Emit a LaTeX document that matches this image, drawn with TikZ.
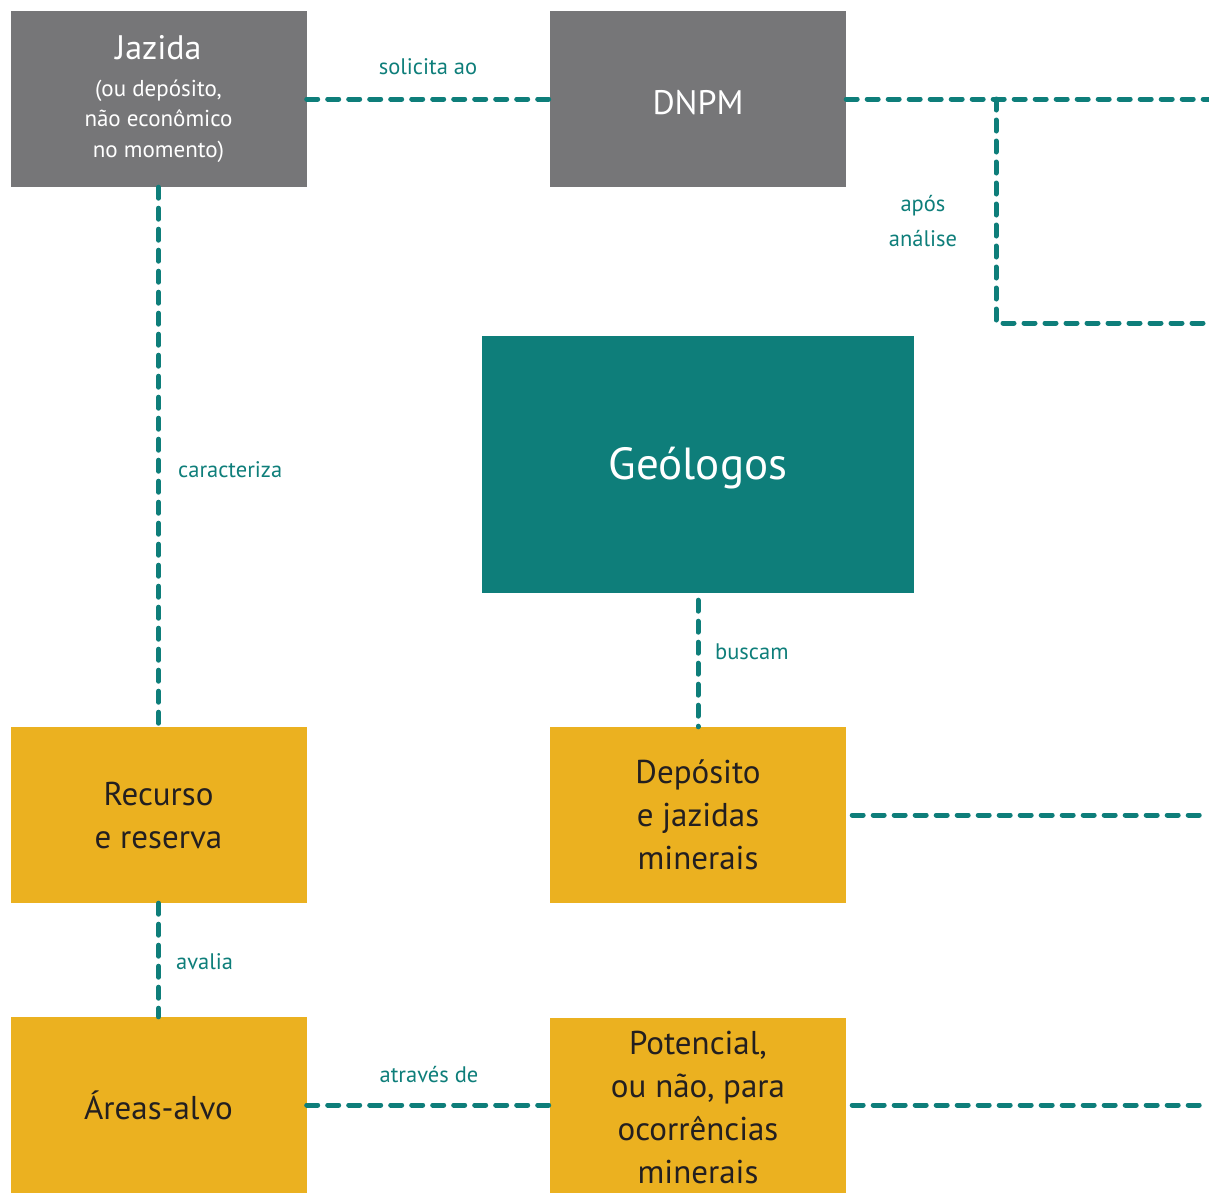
\documentclass[tikz,border=0pt]{standalone}
\usepackage{fontspec}
\setmainfont{PT Sans}
\usepackage{tikz}
\usetikzlibrary{positioning}

\definecolor{boxgray}{RGB}{118,118,120}
\definecolor{geoteal}{RGB}{14,126,122}
\definecolor{ochre}{RGB}{235,177,32}
\definecolor{inktext}{RGB}{35,31,32}

\begin{document}
\begin{tikzpicture}[
    x=1pt, y=-1pt,
    box/.style={minimum width=296pt, minimum height=176pt, inner sep=0pt, align=center},
    greybox/.style={box, fill=boxgray, text=white},
    ochrebox/.style={box, fill=ochre, text=inktext, font=\fontsize{33}{43}\selectfont},
    link/.style={draw=geoteal, line width=5pt, line cap=round, dash pattern=on 11pt off 10pt},
    lbl/.style={text=geoteal, inner sep=0pt, align=center, font=\fontsize{22.5}{35}\selectfont},
  ]
    \useasboundingbox (0,0) rectangle (1209,1192);

    \node[greybox, font=\fontsize{23}{30.5}\selectfont] (jaz) at (158.5,99)
      {{\fontsize{34}{34}\selectfont Jazida}\\[6pt](ou depósito,\\não econômico\\no momento)};
    \node[greybox, font=\fontsize{34}{40}\selectfont] (dnpm) at (698,99)
      {\raisebox{-4pt}[\height][\depth]{DNPM}};
    \node[box, fill=geoteal, text=white, minimum width=432pt, minimum height=257pt,
      font=\fontsize{45}{50}\selectfont] (geo) at (698,464.5)
      {\raisebox{-4pt}[\height][\depth]{Geólogos}};
    \node[ochrebox] (rec) at (158.5,815) {Recurso\\e reserva};
    \node[ochrebox] (dep) at (698,815) {Depósito\\e jazidas\\minerais};
    \node[ochrebox] (alvo) at (158.5,1105) {Áreas-alvo};
    \node[ochrebox, minimum height=178pt] (pot) at (698,1107) {Potencial,\\ou não, para\\ocorrências\\minerais};

    % free ends at the right border
    \coordinate (fork) at (996,99);
    \coordinate (e1) at (1209,99);
    \coordinate (e2) at (1209,323);
    \coordinate (e3) at (1209,815);
    \coordinate (e4) at (1209,1105);

    \draw[link] (jaz) -- (dnpm);
    \draw[link] (dnpm) -- (e1);
    \draw[link] (fork) |- (e2);
    \draw[link] (jaz) -- (rec);
    \draw[link, shorten <=7pt] (geo) -- (dep);
    \draw[link, shorten <=6pt] (dep) -- (e3);
    \draw[link] (rec) -- (alvo);
    \draw[link] (alvo) -- (pot.west |- alvo);
    \draw[link, shorten <=6pt] (pot.east |- e4) -- (e4);

    \node[lbl] (solicita) at (428,67) {solicita ao};
    \node[lbl] (apos) at (923,221) {após\\análise};
    \node[lbl, anchor=west] (caract) at (178,470) {caracteriza};
    \node[lbl, anchor=west] (buscam) at (715,652) {buscam};
    \node[lbl, anchor=west] (avalia) at (176,962) {avalia};
    \node[lbl] (atraves) at (429,1075) {através de};
  \end{tikzpicture}
\end{document}
